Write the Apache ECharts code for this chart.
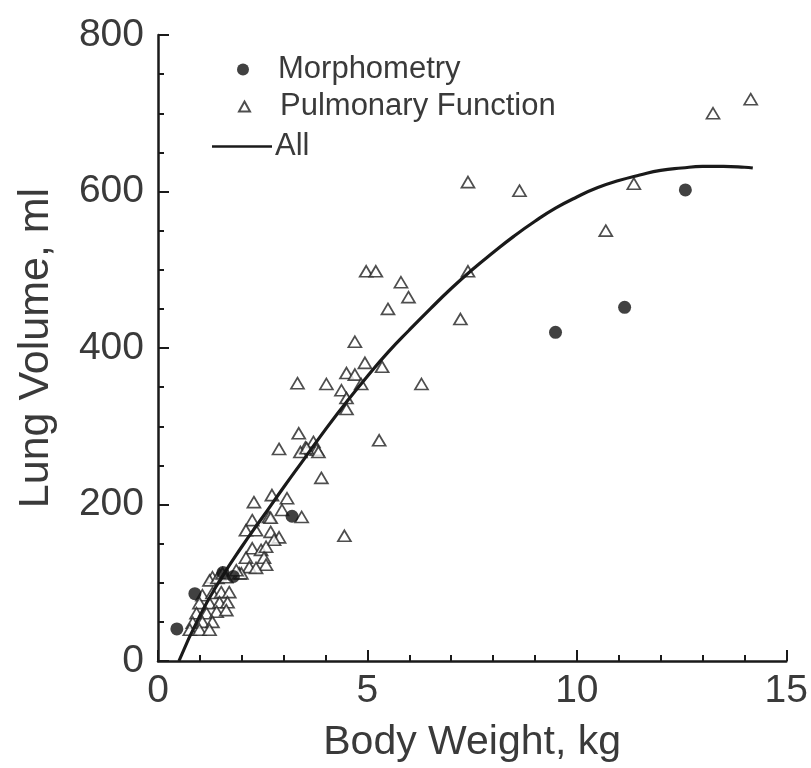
<!DOCTYPE html>
<html>
<head>
<meta charset="utf-8">
<script src="https://cdn.jsdelivr.net/npm/echarts@6/dist/echarts.min.js"></script>
<style>
  html, body { margin: 0; padding: 0; background: #fff; }
  #chart { width: 811px; height: 768px; }
</style>
</head>
<body>
<div id="chart"></div>
<script>
// Lung volume (ml) against body weight (kg)
const morphometry = [
  [0.45, 41], [0.88, 86], [1.55, 113], [1.8, 108], [3.2, 185],
  [9.49, 420], [11.14, 452], [12.59, 602]
];

const pulmonaryFunction = [
  [14.15, 718], [13.25, 700], [7.4, 612], [8.63, 601], [11.36, 610], [10.69, 550],
  [7.4, 498], [7.22, 437],
  [4.97, 498], [5.2, 498], [5.8, 484], [5.98, 465], [5.49, 450], [4.7, 408],
  [4.94, 381], [5.35, 376], [4.5, 368], [4.7, 366], [4.02, 354], [3.33, 355],
  [4.38, 346], [4.85, 354], [6.29, 354], [4.5, 336], [4.5, 322], [5.28, 282],
  [3.36, 291], [3.52, 273], [3.71, 280], [3.79, 270], [3.9, 234], [3.43, 184], [4.45, 160],
  [2.89, 271], [3.4, 267], [3.55, 272], [3.83, 267],
  [2.72, 212], [3.08, 208], [2.96, 193], [2.65, 184],
  [2.29, 203], [2.69, 183], [2.25, 180], [2.1, 167], [2.34, 167], [2.69, 165],
  [2.89, 158], [2.77, 155], [2.25, 144], [2.46, 142], [2.58, 146], [2.1, 132],
  [2.53, 132], [2.58, 123], [2.18, 120], [2.34, 119], [1.94, 112], [1.47, 110], [1.3, 107],
  [1.23, 103], [1.42, 106], [1.63, 107], [1.54, 112], [1.99, 112], [1.87, 116],
  [1.06, 84], [1.3, 87], [1.51, 88], [1.7, 88],
  [0.99, 74], [1.23, 74], [1.47, 75], [1.66, 75],
  [0.92, 61], [1.16, 61], [1.4, 63], [1.63, 65],
  [0.83, 49], [1.06, 50], [1.3, 50],
  [0.76, 40], [0.99, 40], [1.23, 40]
];

// Fitted curve through all data
const allFit = [
  [0.5, 0], [1.0, 58], [1.5, 105], [2.0, 146], [2.5, 184], [3.0, 222], [3.5, 259],
  [4.0, 296], [4.5, 331], [5.0, 364], [5.5, 395], [6.0, 423], [6.5, 450], [7.0, 476],
  [7.5, 500], [8.0, 522], [8.5, 543], [9.0, 562], [9.5, 579], [10.0, 593], [10.5, 605],
  [11.0, 614], [11.5, 621], [12.0, 627], [12.5, 630], [13.0, 632], [13.5, 632],
  [14.0, 631], [14.2, 630]
];

const xTicks = { min: 0, max: 15, step: 5 };
const yTicks = { min: 0, max: 800, step: 200 };

const ink = '#1a1a1a';
const textColor = '#3a3a3a';
const font = "'Liberation Sans', Arial, sans-serif";

const axisCommon = {
  axisLine: { show: true, onZero: false, lineStyle: { color: ink, width: 2.5 } },
  axisTick: { show: true, inside: true, length: 11, lineStyle: { color: ink, width: 2 } },
  minorTick: { show: true, length: 6, lineStyle: { color: ink, width: 2 } },
  splitLine: { show: false },
  minorSplitLine: { show: false },
  axisLabel: { color: textColor, fontSize: 39, fontFamily: font },
  nameTextStyle: { color: textColor, fontSize: 41, fontFamily: font }
};

const legendText = { color: textColor, fontSize: 31, fontFamily: font };

const chart = echarts.init(document.getElementById('chart'), null, { renderer: 'canvas' });
chart.setOption({
  backgroundColor: '#fff',
  animation: false,
  grid: { left: 158, right: 19, top: 35, bottom: 107, containLabel: false },
  xAxis: Object.assign({}, axisCommon, {
    type: 'value', min: xTicks.min, max: xTicks.max, interval: xTicks.step,
    minorTick: Object.assign({}, axisCommon.minorTick, { splitNumber: 5 }),
    axisLabel: Object.assign({}, axisCommon.axisLabel, { margin: 11 }),
    name: 'Body Weight, kg', nameLocation: 'middle', nameGap: 61
  }),
  yAxis: Object.assign({}, axisCommon, {
    type: 'value', min: yTicks.min, max: yTicks.max, interval: yTicks.step,
    minorTick: Object.assign({}, axisCommon.minorTick, { splitNumber: 4 }),
    axisLabel: Object.assign({}, axisCommon.axisLabel, { margin: 14 }),
    name: 'Lung Volume, ml', nameLocation: 'middle', nameGap: 100,
    nameTextStyle: Object.assign({}, axisCommon.nameTextStyle, { fontSize: 43 })
  }),
  legend: [
    {
      data: [{ name: 'Morphometry', icon: 'circle' }],
      left: 237, top: 54, padding: 0, itemWidth: 12, itemHeight: 12, itemGap: 0,
      textStyle: Object.assign({}, legendText, { padding: [0, 0, 0, 24] })
    },
    {
      data: [{ name: 'Pulmonary Function', icon: 'triangle' }],
      left: 238, top: 91, padding: 0, itemWidth: 11, itemHeight: 10, itemGap: 0,
      textStyle: Object.assign({}, legendText, { padding: [0, 0, 0, 25] })
    },
    {
      data: [{ name: 'All', icon: 'rect' }],
      left: 212, top: 131, padding: 0, itemWidth: 60, itemHeight: 2.5, itemGap: 0,
      textStyle: Object.assign({}, legendText, { padding: [0, 0, 0, -2] })
    }
  ],
  series: [
    {
      name: 'Pulmonary Function',
      type: 'scatter',
      data: pulmonaryFunction,
      symbol: 'triangle',
      symbolSize: [13, 11],
      itemStyle: { color: '#fff', borderColor: '#222', borderWidth: 1.7 },
      z: 2
    },
    {
      name: 'All',
      type: 'line',
      data: allFit,
      showSymbol: false,
      smooth: true,
      lineStyle: { color: ink, width: 3.2 },
      itemStyle: { color: ink },
      z: 3
    },
    {
      name: 'Morphometry',
      type: 'scatter',
      data: morphometry,
      symbol: 'circle',
      symbolSize: 13,
      itemStyle: { color: '#111' },
      z: 4
    }
  ]
});
</script>
</body>
</html>
